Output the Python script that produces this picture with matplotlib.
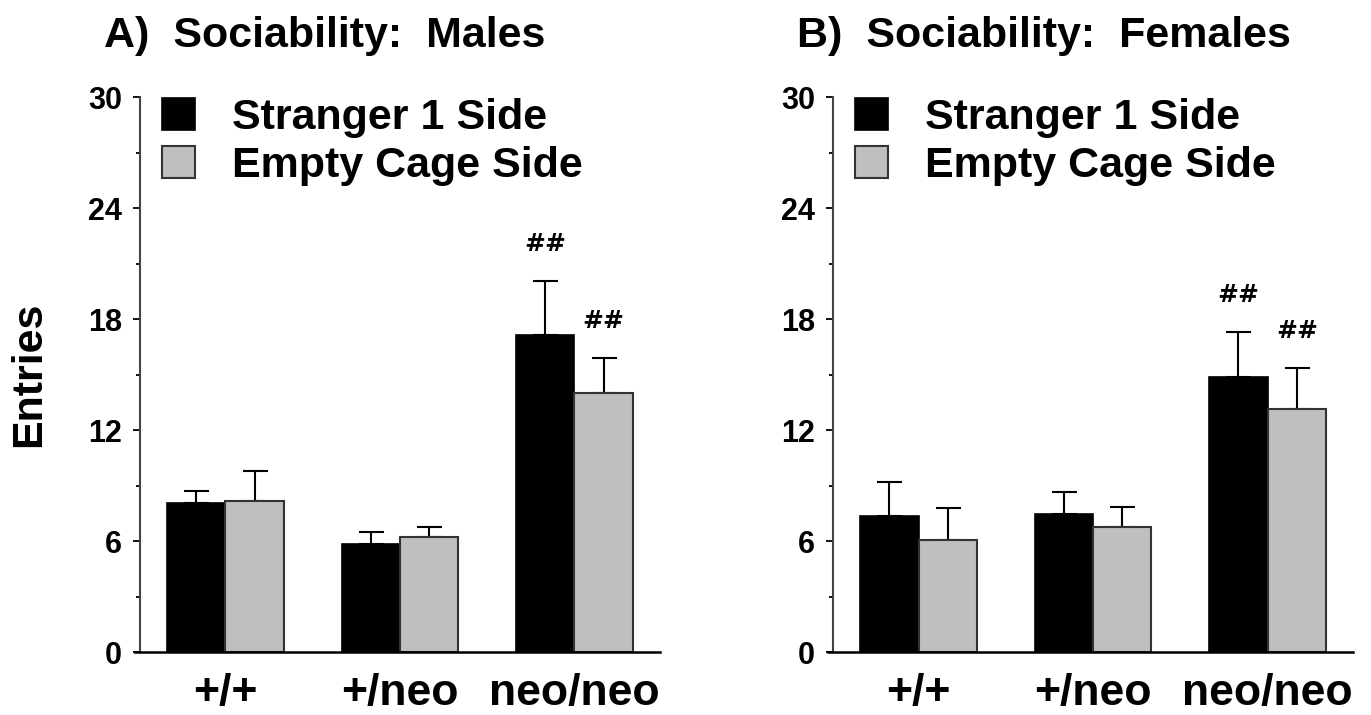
import numpy as np
import matplotlib.pyplot as plt
from matplotlib.patches import Patch

plt.rcParams['font.family'] = ['Liberation Sans', 'DejaVu Sans']
plt.rcParams['font.weight'] = 'bold'

genotypes = ['+/+', '+/neo', 'neo/neo']

# mean entries and SEM, males
male_stranger = [8.05, 5.82, 17.14]
male_stranger_err = [0.68, 0.66, 2.89]
male_empty = [8.16, 6.22, 14.0]
male_empty_err = [1.63, 0.53, 1.88]

# mean entries and SEM, females
fem_stranger = [7.33, 7.47, 14.87]
fem_stranger_err = [1.88, 1.16, 2.43]
fem_empty = [6.03, 6.77, 13.11]
fem_empty_err = [1.73, 1.08, 2.25]

# significance marks (stranger, empty)
male_marks = ['##', '##']
fem_marks = ['##', '##']

fig = plt.figure(figsize=(13.71, 7.15), dpi=100)
ax1 = fig.add_axes([0.1021, 0.0881, 0.3793, 0.7762])
ax2 = fig.add_axes([0.6076, 0.0881, 0.3793, 0.7762])

w = 0.335
x = np.arange(len(genotypes))


def panel(ax, s, se, e, ee, marks, title):
    ax.bar(x - w / 2, s, w, color='black', edgecolor='black', linewidth=1.2, zorder=2)
    ax.bar(x + w / 2, e, w, color='#bfbfbf', edgecolor='#333333', linewidth=1.5, zorder=2)
    ax.errorbar(x - w / 2, s, yerr=[np.zeros(3), se], fmt='none', ecolor='black',
                elinewidth=1.5, capsize=9, capthick=1.5, zorder=1)
    ax.errorbar(x + w / 2, e, yerr=[np.zeros(3), ee], fmt='none', ecolor='black',
                elinewidth=1.5, capsize=9, capthick=1.5, zorder=1)
    # ## above the neo/neo bars
    ax.text(x[2] - w / 2, s[2] + se[2] + 1.35, marks[0], ha='center', va='bottom',
            fontsize=18, fontweight='bold', family='DejaVu Serif')
    ax.text(x[2] + w / 2, e[2] + ee[2] + 1.35, marks[1], ha='center', va='bottom',
            fontsize=18, fontweight='bold', family='DejaVu Serif')

    ax.set_ylim(0, 30)
    ax.set_xlim(-0.49, 2.49)
    ax.set_yticks([0, 6, 12, 18, 24, 30])
    ax.set_yticks([3, 9, 15, 21, 27], minor=True)
    ax.set_xticks(x)
    ax.set_xticklabels(genotypes, fontsize=32, fontweight='bold')
    ax.tick_params(axis='x', length=0, pad=15)
    ax.tick_params(axis='y', which='major', length=5, width=1.3, labelsize=22, pad=8)
    ax.tick_params(axis='y', which='minor', length=3, width=1.3)
    for lab in ax.get_yticklabels():
        lab.set_fontweight('bold')
    for sp in ['top', 'right']:
        ax.spines[sp].set_visible(False)
    ax.spines['left'].set_linewidth(1.5)
    ax.spines['left'].set_color('#444444')
    ax.spines['bottom'].set_linewidth(1.8)
    ax.spines['bottom'].set_bounds(-0.52, 2.49)

    handles = [Patch(facecolor='black', edgecolor='black', linewidth=1.2),
               Patch(facecolor='#bfbfbf', edgecolor='#333333', linewidth=1.5)]
    ax.legend(handles, ['Stranger 1 Side', 'Empty Cage Side'], loc='upper left',
              bbox_to_anchor=(0.042, 0.999), frameon=False, prop={'size': 31, 'weight': 'bold'},
              handlelength=0.78, handleheight=0.78, handletextpad=0.85, labelspacing=0.19,
              borderaxespad=0, borderpad=0)
    ax.set_title(title, fontsize=31, fontweight='bold', loc='left', x=-0.07, pad=36)


panel(ax1, male_stranger, male_stranger_err, male_empty, male_empty_err, male_marks,
      'A)  Sociability:  Males')
panel(ax2, fem_stranger, fem_stranger_err, fem_empty, fem_empty_err, fem_marks,
      'B)  Sociability:  Females')
ax1.set_ylabel('Entries', fontsize=31, fontweight='bold', labelpad=28)

fig.savefig('out.png', dpi=100)
